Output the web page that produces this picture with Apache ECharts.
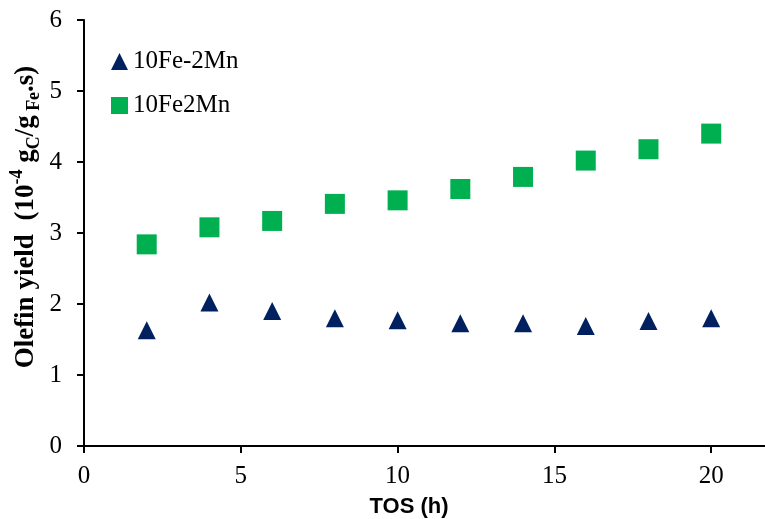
<!DOCTYPE html>
<html>
<head>
<meta charset="utf-8">
<script src="https://cdn.jsdelivr.net/npm/echarts@6/dist/echarts.min.js"></script>
<style>html,body{margin:0;padding:0;background:#fff;}#c{width:765px;height:519px;}</style>
</head>
<body>
<div id="c"></div>
<script>
var tos = [2, 4, 6, 8, 10, 12, 14, 16, 18, 20];
var fe_2mn = [1.63, 2.02, 1.90, 1.80, 1.77, 1.73, 1.73, 1.69, 1.76, 1.80];
var fe2mn = [2.84, 3.08, 3.17, 3.41, 3.46, 3.62, 3.79, 4.02, 4.18, 4.40];
var seriesNames = ['10Fe-2Mn', '10Fe2Mn'];

function pairs(xs, ys) { return xs.map(function (x, i) { return [x, ys[i]]; }); }

var chart = echarts.init(document.getElementById('c'), null, { renderer: 'canvas' });
var serif = 'Liberation Serif';
chart.setOption({
  animation: false,
  backgroundColor: '#fff',
  grid: { left: 84, width: 784, top: 20, height: 426, containLabel: false, outerBoundsMode: 'none' },
  legend: {
    orient: 'vertical', left: 106, top: 44, itemWidth: 17, itemHeight: 17, itemGap: 19,
    textStyle: { fontFamily: serif, fontSize: 25, color: '#000' },
    data: [{ name: seriesNames[0], icon: 'triangle' }, { name: seriesNames[1], icon: 'rect' }]
  },
  xAxis: {
    type: 'value', min: 0, max: 25, interval: 5,
    axisLine: { lineStyle: { color: '#000', width: 2 } },
    axisTick: { show: true, length: 7, lineStyle: { color: '#000', width: 2 } },
    axisLabel: { fontFamily: serif, fontSize: 25, color: '#000', margin: 18 },
    splitLine: { show: false }
  },
  yAxis: {
    type: 'value', min: 0, max: 6, interval: 1,
    axisLine: { show: true, lineStyle: { color: '#000', width: 2 } },
    axisTick: { show: true, length: 7, lineStyle: { color: '#000', width: 2 } },
    axisLabel: { fontFamily: serif, fontSize: 25, color: '#000', margin: 22 },
    splitLine: { show: false }
  },
  graphic: [
    {
      type: 'text', x: 26, y: 217, rotation: Math.PI / 2,
      style: {
        text: '{m|Olefin yield  (10}{sup|-4}{m| g}{sub|C}{m|/g}{sub| Fe}{m|.s)}',
        align: 'center', verticalAlign: 'middle',
        rich: {
          m: { fontFamily: serif, fontWeight: 'bold', fontSize: 27, fill: '#000', lineHeight: 35 },
          sup: { fontFamily: serif, fontWeight: 'bold', fontSize: 18, fill: '#000', verticalAlign: 'top', lineHeight: 21 },
          sub: { fontFamily: serif, fontWeight: 'bold', fontSize: 18, fill: '#000', verticalAlign: 'bottom', lineHeight: 25 }
        }
      }
    },
    {
      type: 'text', x: 409, y: 507,
      style: { text: 'TOS (h)', fontFamily: 'Liberation Sans', fontWeight: 'bold', fontSize: 22, fill: '#000', align: 'center', verticalAlign: 'middle' }
    }
  ],
  series: [
    { name: seriesNames[0], type: 'scatter', symbol: 'triangle', symbolSize: 18,
      itemStyle: { color: '#002060', opacity: 1 }, data: pairs(tos, fe_2mn) },
    { name: seriesNames[1], type: 'scatter', symbol: 'rect', symbolSize: 20,
      itemStyle: { color: '#00B050', opacity: 1 }, data: pairs(tos, fe2mn) }
  ]
});
</script>
</body>
</html>
